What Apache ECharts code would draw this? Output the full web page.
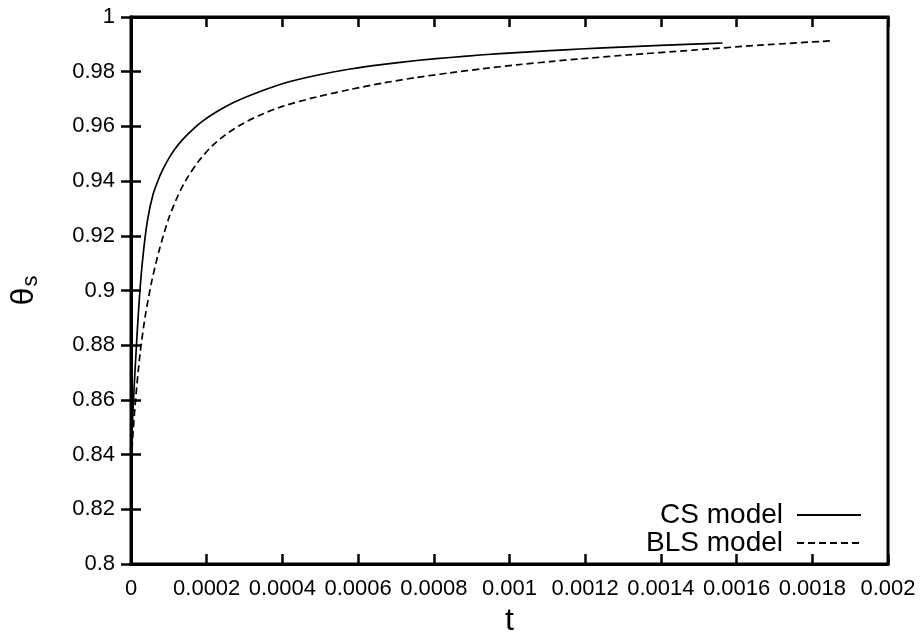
<!DOCTYPE html>
<html>
<head>
<meta charset="utf-8">
<script src="https://cdn.jsdelivr.net/npm/echarts@6/dist/echarts.min.js"></script>
<style>
html,body{margin:0;padding:0;background:#fff;}
#chart{width:923px;height:633px;}
</style>
</head>
<body>
<div id="chart"></div>
<script>
// ---- data ----
var xTicks = [0, 0.0002, 0.0004, 0.0006, 0.0008, 0.001, 0.0012, 0.0014, 0.0016, 0.0018, 0.002];
var xTickLabels = ['0', '0.0002', '0.0004', '0.0006', '0.0008', '0.001', '0.0012', '0.0014', '0.0016', '0.0018', '0.002'];
var yTicks = [0.8, 0.82, 0.84, 0.86, 0.88, 0.9, 0.92, 0.94, 0.96, 0.98, 1];
var yTickLabels = ['0.8', '0.82', '0.84', '0.86', '0.88', '0.9', '0.92', '0.94', '0.96', '0.98', '1'];

var seriesNames = ['CS model', 'BLS model'];

var csT = [0, 3e-6, 8e-6, 1.4e-5, 2.2e-5, 3.2e-5, 4.4e-5, 5.8e-5, 7.5e-5, 8.5e-5, 1.0e-4, 1.16e-4, 1.35e-4, 1.6e-4, 1.9e-4, 2.22e-4, 2.75e-4, 3.36e-4, 4.02e-4, 4.91e-4, 5.79e-4, 6.67e-4, 7.55e-4, 8.43e-4, 9.31e-4, 1.019e-3, 1.107e-3, 1.186e-3, 1.31e-3, 1.486e-3, 1.563e-3];
var csTheta = [0.838, 0.849, 0.864, 0.879, 0.897, 0.913, 0.926, 0.935, 0.9415, 0.9445, 0.9483, 0.9517, 0.955, 0.9585, 0.962, 0.965, 0.969, 0.9725, 0.9757, 0.9787, 0.981, 0.9827, 0.9841, 0.9852, 0.9862, 0.9870, 0.9877, 0.9883, 0.9891, 0.9901, 0.9905];

var blsT = [0, 4e-6, 1.2e-5, 2.4e-5, 3.8e-5, 5.5e-5, 7.5e-5, 1.0e-4, 1.25e-4, 1.5e-4, 1.8e-4, 2.13e-4, 2.5e-4, 2.9e-4, 3.4e-4, 4.02e-4, 4.91e-4, 5.79e-4, 6.67e-4, 7.55e-4, 8.43e-4, 9.31e-4, 1.019e-3, 1.107e-3, 1.186e-3, 1.31e-3, 1.486e-3, 1.662e-3, 1.851e-3];
var blsTheta = [0.834, 0.845, 0.86, 0.877, 0.891, 0.9035, 0.915, 0.9265, 0.935, 0.9415, 0.9475, 0.9527, 0.957, 0.9606, 0.9641, 0.9674, 0.9708, 0.9735, 0.9759, 0.9779, 0.9796, 0.9811, 0.9825, 0.9837, 0.9847, 0.9861, 0.9879, 0.9897, 0.9913];

function zip(a, b) { return a.map(function (v, i) { return [v, b[i]]; }); }
function labelFor(ticks, labels) {
  return function (v) {
    var best = 0, d = Infinity;
    for (var i = 0; i < ticks.length; i++) {
      var dd = Math.abs(ticks[i] - v);
      if (dd < d) { d = dd; best = i; }
    }
    return labels[best];
  };
}

var FONT = 'Liberation Sans, Arial, sans-serif';
var chart = echarts.init(document.getElementById('chart'), null, { renderer: 'canvas' });

var axisCommon = {
  axisLine: { show: true, lineStyle: { color: '#000', width: 3 } },
  axisTick: { show: true, inside: true, length: 10, lineStyle: { color: '#000', width: 2.5 } },
  splitLine: { show: false }
};

chart.setOption({
  animation: false,
  backgroundColor: '#fff',
  grid: { left: 131, right: 35, top: 17, bottom: 69, show: true, borderColor: '#000', borderWidth: 3, containLabel: false, outerBoundsMode: 'none' },
  legend: {
    data: seriesNames,
    orient: 'vertical',
    right: 61,
    top: 501,
    padding: 0,
    align: 'right',
    itemWidth: 64,
    itemHeight: 14,
    itemGap: 0,
    itemStyle: { opacity: 0 },
    textStyle: { fontFamily: FONT, fontSize: 28, color: '#000', lineHeight: 26, padding: [0, 9, 0, 0] }
  },
  xAxis: [
    Object.assign({
      type: 'value', min: 0, max: 0.002, interval: 0.0002, position: 'bottom',
      name: 't', nameLocation: 'middle', nameGap: 36,
      nameTextStyle: { fontFamily: FONT, fontSize: 32, color: '#000' },
      axisLabel: { fontFamily: FONT, fontSize: 22, color: '#000', margin: 14, formatter: labelFor(xTicks, xTickLabels) }
    }, axisCommon),
    Object.assign({
      type: 'value', min: 0, max: 0.002, interval: 0.0002, position: 'top',
      axisLabel: { show: false }
    }, axisCommon)
  ],
  yAxis: [
    Object.assign({
      type: 'value', min: 0.8, max: 1, interval: 0.02, position: 'left',
      name: '{a|θ}{b|s}', nameLocation: 'middle', nameGap: 89, nameRotate: 90,
      nameTextStyle: {
        fontFamily: FONT, color: '#000',
        rich: {
          a: { fontFamily: FONT, fontSize: 32, color: '#000' },
          b: { fontFamily: FONT, fontSize: 22, color: '#000', padding: [14, 0, 0, 1] }
        }
      },
      axisLabel: { fontFamily: FONT, fontSize: 22, color: '#000', margin: 16, formatter: labelFor(yTicks, yTickLabels) }
    }, axisCommon),
    Object.assign({
      type: 'value', min: 0.8, max: 1, interval: 0.02, position: 'right',
      axisLabel: { show: false }
    }, axisCommon)
  ],
  series: [
    {
      name: seriesNames[0], type: 'line', xAxisIndex: 0, yAxisIndex: 0,
      data: zip(csT, csTheta), showSymbol: false, symbol: 'none',
      smooth: 0.25,
      lineStyle: { color: '#000', width: 1.7, type: 'solid' },
      itemStyle: { color: '#000' }
    },
    {
      name: seriesNames[1], type: 'line', xAxisIndex: 0, yAxisIndex: 0,
      data: zip(blsT, blsTheta), showSymbol: false, symbol: 'none',
      smooth: 0.25,
      lineStyle: { color: '#000', width: 1.7, type: [7, 4] },
      itemStyle: { color: '#000' }
    }
  ]
});
</script>
</body>
</html>
